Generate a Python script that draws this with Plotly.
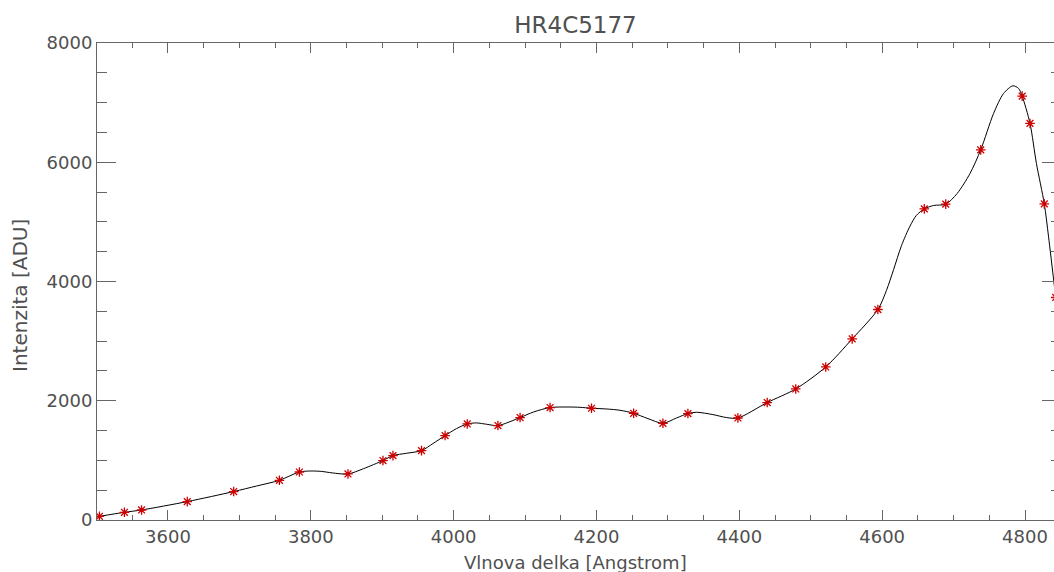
import plotly.graph_objects as go

# Measured points (red asterisks)
point_x = [3504, 3539, 3563, 3627, 3692, 3756, 3784, 3852, 3901, 3915, 3955, 3988,
           4019, 4062, 4093, 4135, 4193, 4252, 4293, 4328, 4398, 4439, 4479, 4521,
           4558, 4594, 4659, 4689, 4738, 4796, 4807, 4827, 4843]
point_y = [62, 129, 168, 309, 477, 666, 805, 772, 997, 1080, 1164, 1416,
           1611, 1584, 1718, 1886, 1874, 1790, 1622, 1785, 1711, 1970, 2198, 2567,
           3037, 3530, 5218, 5297, 6208, 7109, 6651, 5302, 3732]

# Smooth curve
curve_x = [3500, 3504, 3539, 3563, 3627, 3692, 3724, 3756, 3784, 3800, 3815, 3830,
           3852, 3874, 3901, 3915, 3934, 3955, 3971, 3988, 4004, 4019, 4032, 4046,
           4062, 4093, 4112, 4135, 4160, 4177, 4193, 4214, 4233, 4252, 4272, 4293,
           4312, 4328, 4340, 4363, 4382, 4398, 4439, 4479, 4521, 4558, 4594, 4606,
           4616, 4627, 4639, 4648, 4659, 4672, 4689, 4705, 4723, 4738, 4756, 4770, 4783,
           4791, 4796, 4807, 4816, 4827, 4833, 4843]
curve_y = [55, 62, 129, 168, 309, 477, 570, 666, 805, 822, 815, 790,
           772, 862, 997, 1080, 1119, 1164, 1282, 1416, 1533, 1611, 1628, 1606,
           1584, 1718, 1812, 1886, 1895, 1890, 1874, 1862, 1840, 1790, 1701, 1622,
           1711, 1785, 1807, 1768, 1718, 1711, 1970, 2198, 2567, 3037, 3530, 3850,
           4200, 4600, 4930, 5110, 5218, 5275, 5297, 5476, 5812, 6208, 6819, 7154, 7282,
           7238, 7109, 6651, 5980, 5302, 4748, 3732]

title_text = "HR4C5177"
x_title = "Vlnova delka [Angstrom]"
y_title = "Intenzita [ADU]"

FONT = "DejaVu Sans"
TXT = "#505050"
AX = "#666666"

fig = go.Figure()
fig.add_trace(go.Scatter(x=curve_x, y=curve_y, mode="lines",
                         line=dict(color="black", width=1, shape="spline", smoothing=0.8),
                         showlegend=False, hoverinfo="skip"))
fig.add_trace(go.Scatter(x=point_x, y=point_y, mode="markers", yaxis="y2",
                         marker=dict(symbol="asterisk-open", size=8, color="#cc0000",
                                     line=dict(color="#cc0000", width=1.3)),
                         showlegend=False))

fig.update_layout(
    width=1054, height=572,
    margin=dict(l=97, r=0, t=43, b=52),
    paper_bgcolor="white", plot_bgcolor="white",
    font=dict(family=FONT, color=TXT),
    title=dict(text=title_text, x=0.5, xref="paper", xanchor="center",
               y=1 - 25 / 572, yref="container", yanchor="middle",
               font=dict(size=23, color=TXT, family=FONT)),
    xaxis=dict(range=[3500.6, 4840.6], tickmode="linear", tick0=3600, dtick=200,
               ticks="inside", ticklen=10, tickwidth=1, tickcolor=AX,
               showline=True, linecolor=AX, linewidth=1, mirror="ticks",
               showgrid=False, zeroline=False,
               minor=dict(dtick=50, tick0=3600, ticks="inside", ticklen=5, tickcolor=AX, showgrid=False),
               tickfont=dict(size=18, color=TXT, family=FONT)),
    yaxis=dict(range=[0, 8000], tickmode="linear", tick0=0, dtick=2000,
               ticks="inside", ticklen=19, tickwidth=1, tickcolor=AX,
               showline=True, linecolor=AX, linewidth=1, mirror=False,
               showgrid=False, zeroline=False,
               minor=dict(dtick=500, ticks="inside", ticklen=10, tickcolor=AX, showgrid=False),
               tickfont=dict(size=18, color=TXT, family=FONT)),
    yaxis2=dict(range=[0, 8000], overlaying="y", side="right", tickmode="linear",
                tick0=0, dtick=2000, ticks="inside", ticklen=12, tickcolor=AX,
                showline=False, showticklabels=False, showgrid=False, zeroline=False,
                minor=dict(dtick=500, ticks="inside", ticklen=3, tickcolor=AX, showgrid=False)),
    annotations=[
        dict(text=x_title, xref="paper", yref="paper", x=0.5, y=-(562 - 520) / 477,
             xanchor="center", yanchor="middle", showarrow=False,
             font=dict(size=18, color=TXT, family=FONT)),
        dict(text=y_title, xref="paper", yref="paper", x=(20 - 97) / 957, y=(520 - 296) / 477,
             xanchor="center", yanchor="middle", textangle=-90, showarrow=False,
             font=dict(size=20, color=TXT, family=FONT)),
    ],
)

fig.write_html("out.html", config={"displayModeBar": False},
               post_script="document.body.style.margin='0';document.body.style.overflow='hidden';")
